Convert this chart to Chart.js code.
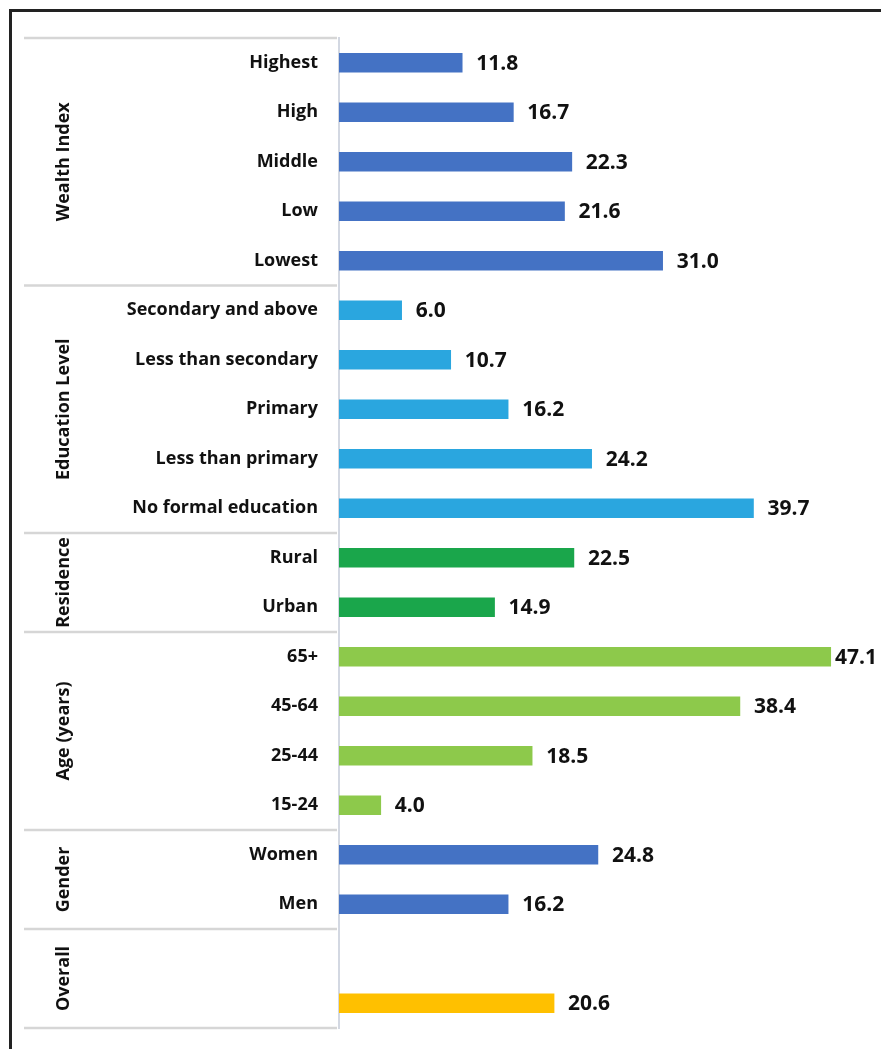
<!DOCTYPE html>
<html>
<head>
<meta charset="utf-8">
<script src="https://cdn.jsdelivr.net/npm/chart.js@4/dist/chart.umd.min.js"></script>
<style>
  body { margin: 0; background: #fff; }
  #wrap { position: relative; width: 881px; height: 1049px; overflow: hidden; }
  #frame {
    position: absolute; left: 9px; top: 9px; width: 900px; height: 1100px;
    border-left: 3px solid #222; border-top: 3px solid #222; pointer-events: none;
  }
  canvas { position: absolute; left: 0; top: 0; }
</style>
</head>
<body>
<div id="wrap">
  <canvas id="chart" width="881" height="1049"></canvas>
  <div id="frame"></div>
</div>
<script>
// row labels, top to bottom (the Overall block has an empty spacer row)
const categories = [
  'Highest', 'High', 'Middle', 'Low', 'Lowest',
  'Secondary and above', 'Less than secondary', 'Primary', 'Less than primary', 'No formal education',
  'Rural', 'Urban',
  '65+', '45-64', '25-44', '15-24',
  'Women', 'Men',
  '', ''
];
const values = [
  11.8, 16.7, 22.3, 21.6, 31.0,
  6.0, 10.7, 16.2, 24.2, 39.7,
  22.5, 14.9,
  47.1, 38.4, 18.5, 4.0,
  24.8, 16.2,
  null, 20.6
];
const groupNames = ['Wealth Index', 'Education Level', 'Residence', 'Age (years)', 'Gender', 'Overall'];
const groupSizes = [5, 5, 2, 4, 2, 2];
const groupColors = ['#4472C4', '#2AA6DF', '#1AA64B', '#8DC94B', '#4472C4', '#FFC000'];

const barColors = [];
groupSizes.forEach((n, g) => { for (let i = 0; i < n; i++) barColors.push(groupColors[g]); });

const FONT = '"Open Sans", "DejaVu Sans", sans-serif';

// group separators + rotated group titles on the left
const groupPlugin = {
  id: 'groups',
  afterDraw(chart) {
    const ctx = chart.ctx;
    const y = chart.scales.y;
    const step = y.getPixelForValue(1) - y.getPixelForValue(0);
    const edge = i => y.getPixelForValue(i) - step / 2;
    const axisX = chart.chartArea.left;
    ctx.save();
    ctx.strokeStyle = '#d6d6d6';
    ctx.lineWidth = 2.5;
    let start = 0;
    const lines = [edge(0)];
    groupSizes.forEach((n, g) => {
      const top = edge(start), bottom = edge(start + n);
      lines.push(bottom);
      ctx.save();
      ctx.translate(64, (top + bottom) / 2);
      ctx.rotate(-Math.PI / 2);
      ctx.font = 'bold 18px ' + FONT;
      ctx.fillStyle = '#111';
      ctx.textAlign = 'center';
      ctx.textBaseline = 'middle';
      ctx.fillText(groupNames[g], 0, 0);
      ctx.restore();
      start += n;
    });
    lines.forEach(ly => {
      ctx.beginPath();
      ctx.moveTo(24, ly);
      ctx.lineTo(axisX - 2, ly);
      ctx.stroke();
    });
    ctx.restore();
  }
};

// value labels at the end of each bar
const valuePlugin = {
  id: 'values',
  afterDatasetsDraw(chart) {
    const ctx = chart.ctx;
    const meta = chart.getDatasetMeta(0);
    ctx.save();
    ctx.font = 'bold 21px ' + FONT;
    ctx.fillStyle = '#111';
    ctx.textAlign = 'left';
    ctx.textBaseline = 'middle';
    meta.data.forEach((bar, i) => {
      const v = values[i];
      if (v === null) return;
      const x = Math.min(bar.x + 14, chart.width - 46);
      ctx.fillText(v.toFixed(1), x, bar.y + 1);
    });
    ctx.restore();
  }
};

new Chart(document.getElementById('chart'), {
  type: 'bar',
  data: {
    labels: categories,
    datasets: [{
      data: values,
      backgroundColor: barColors,
      barThickness: 19,
      borderWidth: 0
    }]
  },
  options: {
    indexAxis: 'y',
    responsive: false,
    devicePixelRatio: 1,
    animation: false,
    layout: { padding: { top: 38, bottom: 21, left: 0, right: 20 } },
    plugins: { legend: { display: false }, tooltip: { enabled: false } },
    scales: {
      x: { display: false, min: 0, max: 50 },
      y: {
        afterFit(scale) {
          scale.width = 339;
          // rows fill the whole height; no extra room for the end labels
          scale.paddingTop = 0;
          scale.paddingBottom = 0;
        },
        grid: { display: false, drawTicks: false },
        border: { display: true, color: '#d3d8e2', width: 2 },
        ticks: {
          padding: 21,
          color: '#111',
          font: { family: FONT, size: 18, weight: 'bold' }
        }
      }
    }
  },
  plugins: [groupPlugin, valuePlugin]
});
</script>
</body>
</html>
